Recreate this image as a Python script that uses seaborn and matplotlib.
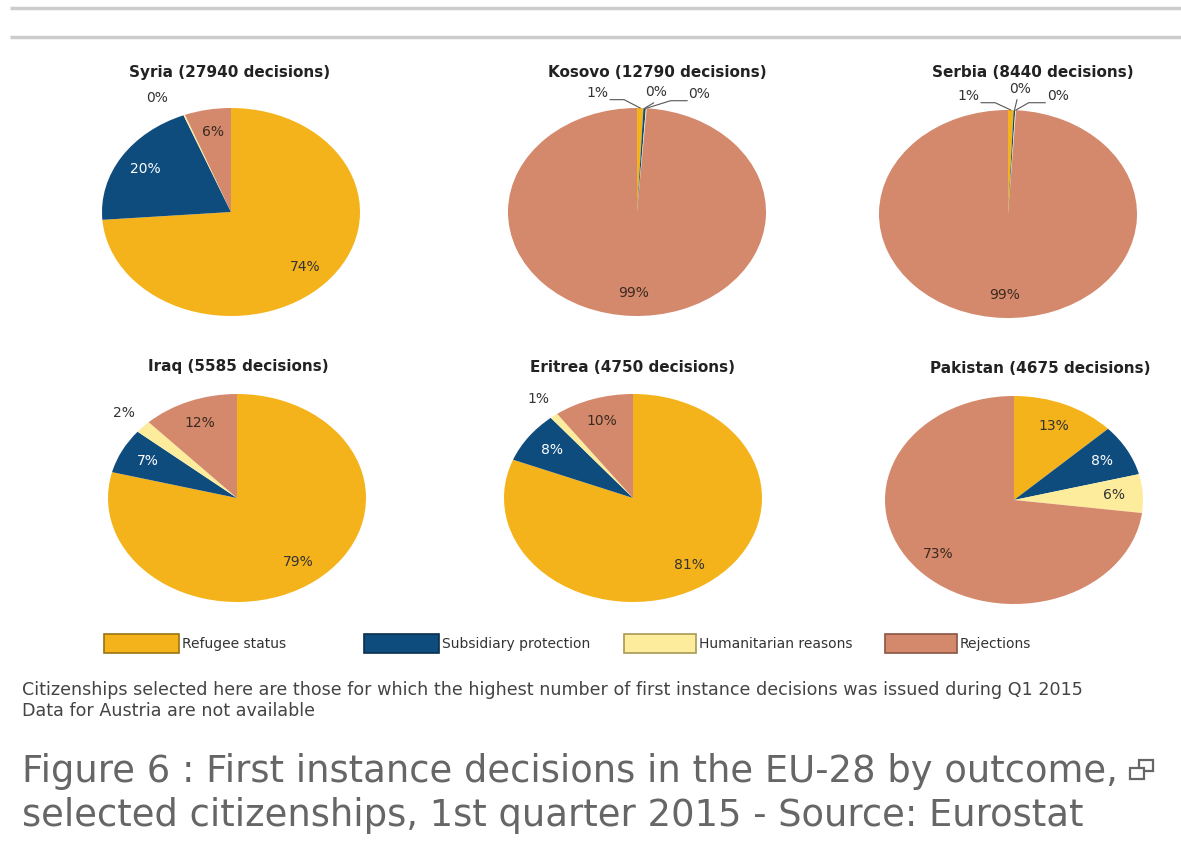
import numpy as np
import matplotlib
matplotlib.use("Agg")
import matplotlib.pyplot as plt
from matplotlib.patches import Rectangle
import seaborn as sns

# ---------------- data ----------------
categories = ["Refugee status", "Subsidiary protection", "Humanitarian reasons", "Rejections"]
countries = ["Syria", "Kosovo", "Serbia", "Iraq", "Eritrea", "Pakistan"]
decisions = [27940, 12790, 8440, 5585, 4750, 4675]
syria = [73.8, 20.2, 0.2, 5.8]
kosovo = [0.8, 0.3, 0.1, 98.8]
serbia = [0.7, 0.2, 0.1, 99.0]
iraq = [79, 7, 2, 12]
eritrea = [81, 8, 1, 10]
pakistan = [13, 8, 6, 73]
footnotes = [
    "Citizenships selected here are those for which the highest number of first instance decisions was issued during Q1 2015",
    "Data for Austria are not available",
]
caption = [
    "Figure 6 : First instance decisions in the EU-28 by outcome,",
    "selected citizenships, 1st quarter 2015 - Source: Eurostat",
]
shares = [syria, kosovo, serbia, iraq, eritrea, pakistan]

# ---------------- style ----------------
sns.set_theme(style="white")
plt.rcParams["font.family"] = ["DejaVu Sans"]
palette = sns.color_palette(["#F5B31B", "#0F4C7E", "#FCEC9C", "#D4886C"])
edge_cols = ["#9a7412", "#0a2f4f", "#a89a55", "#8a5542"]
label_cols = ["#333333", "white", "#333333", "#3a2a20"]

W, H = 1181, 841
fig = plt.figure(figsize=(W / 100, H / 100), dpi=100)
fig.patch.set_facecolor("white")

bg = fig.add_axes([0, 0, 1, 1])
bg.set_xlim(0, W)
bg.set_ylim(H, 0)
bg.axis("off")

# top rules
for yy in (8, 37):
    bg.plot([10, W], [yy, yy], color="#cccccc", lw=2.5, solid_capstyle="butt")

# layout (pixels)
centers = [(231, 212), (637, 212), (1008, 214), (237, 498), (633, 498), (1014, 500)]
rx, ry = 129, 104
title_xy = [(230, 72), (657, 72), (1033, 72), (238, 366), (633, 367), (1040, 368)]

# outside callouts: chart index -> {slice index: (tx, ty, ha, leader)}
callouts = {
    0: {2: (-0.57, 1.10, "center", False)},
    1: {0: (-0.22, 1.14, "right", True), 1: (0.15, 1.15, "center", True), 2: (0.40, 1.13, "left", True)},
    2: {0: (-0.22, 1.13, "right", True), 1: (0.09, 1.20, "center", True), 2: (0.30, 1.13, "left", True)},
    3: {2: None},
    4: {2: None},
}

for i, (vals, (cx, cy)) in enumerate(zip(shares, centers)):
    ax = fig.add_axes([(cx - rx) / W, 1 - (cy + ry) / H, 2 * rx / W, 2 * ry / H])
    wedges, _ = ax.pie(vals, colors=palette, startangle=90, counterclock=False,
                       wedgeprops=dict(linewidth=0), normalize=True)
    ax.set_aspect("auto")
    ax.set_xlim(-1, 1)
    ax.set_ylim(-1, 1)
    ax.axis("off")
    total = sum(vals)
    co = callouts.get(i, {})
    for j, w in enumerate(wedges):
        pct = vals[j] / total * 100
        lab = f"{pct:.0f}%"
        mid = np.deg2rad((w.theta1 + w.theta2) / 2)
        if j in co:
            spec = co[j]
            if spec is None:
                ax.text(1.2 * np.cos(mid), 1.2 * np.sin(mid), lab, ha="center", va="center",
                        fontsize=10, color="#333333")
                continue
            tx, ty, ha, leader = spec
            ax.text(tx, ty, lab, ha=ha, va="center", fontsize=10, color="#333333")
            if leader:
                ex, ey = np.cos(mid), np.sin(mid)
                ly = ty - 0.06
                if ha == "right":
                    xs = [tx + 0.01, tx + 0.12, ex]
                    ys = [ly, ly, ey]
                elif ha == "left":
                    xs = [tx - 0.01, tx - 0.14, ex]
                    ys = [ly, ly, ey]
                else:
                    xs = [tx - 0.02, ex]
                    ys = [ty - 0.1, ey]
                ax.plot(xs, ys, color="#555555", lw=0.8, clip_on=False)
        else:
            r = 0.78
            ax.text(r * np.cos(mid), r * np.sin(mid), lab, ha="center", va="center",
                    fontsize=10, color=label_cols[j])

# titles
for (tx, ty), c, d in zip(title_xy, countries, decisions):
    bg.text(tx, ty, f"{c} ({d} decisions)", ha="center", va="center",
            fontsize=11, fontweight="bold", color="#222222")

# legend
leg_x = [104, 364, 624, 885]
leg_w = [75, 75, 72, 72]
for k, cat in enumerate(categories):
    bg.add_patch(Rectangle((leg_x[k], 634), leg_w[k], 19, facecolor=palette[k],
                           edgecolor=edge_cols[k], lw=1.2))
    bg.text(leg_x[k] + leg_w[k] + 3, 644, cat, ha="left", va="center",
            fontsize=10, color="#333333")

# footnotes
for k, line in enumerate(footnotes):
    bg.text(22, 690 + 21 * k, line, ha="left", va="center", fontsize=12.6, color="#444444")

# caption
for k, line in enumerate(caption):
    bg.text(22, 771 + 45 * k, line, ha="left", va="center", fontsize=26.6, color="#666666")

# window icon after caption
bg.add_patch(Rectangle((1139, 760), 14, 11, facecolor="none", edgecolor="#666666", lw=1.6))
bg.add_patch(Rectangle((1130, 768), 14, 11, facecolor="white", edgecolor="#666666", lw=1.6))

fig.savefig("out.png", dpi=100, facecolor="white")
